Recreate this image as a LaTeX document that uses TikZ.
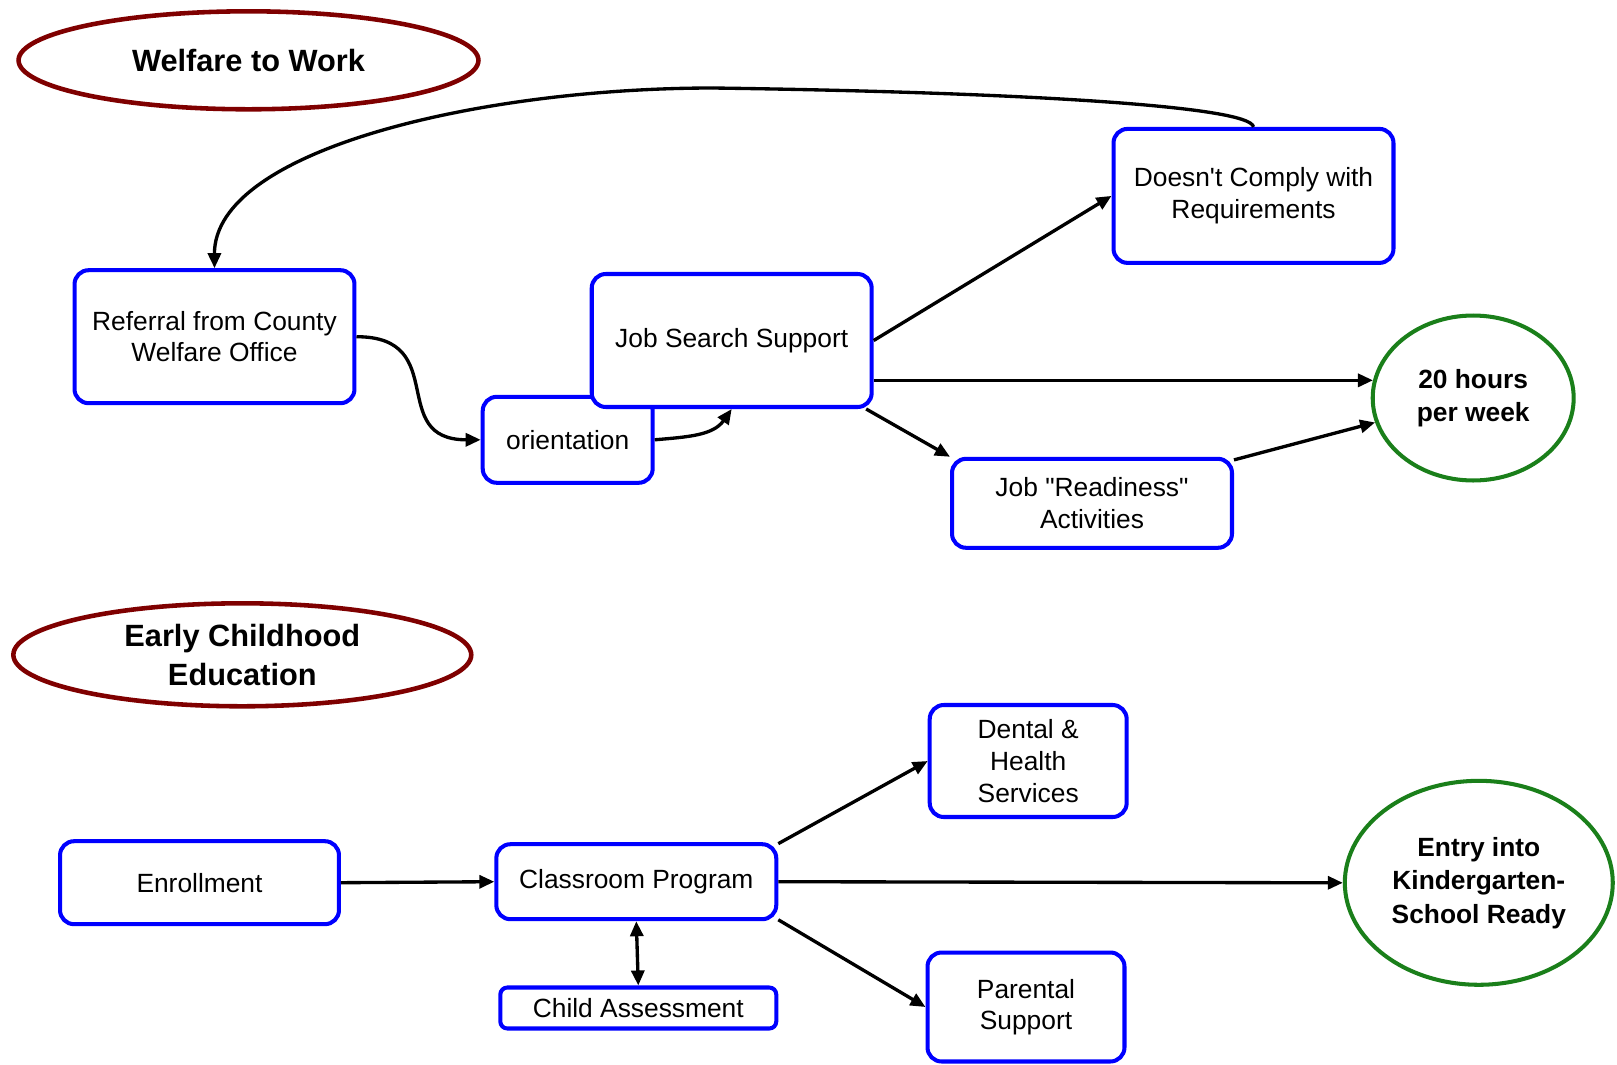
\documentclass[tikz,border=0pt]{standalone}
\usepackage{fontspec}
\setmainfont{Liberation Sans}
\usetikzlibrary{positioning,arrows.meta,shapes.geometric}
\definecolor{boxblue}{HTML}{0000FF}
\definecolor{titlered}{HTML}{7F0000}
\definecolor{goalgreen}{HTML}{1A7F1A}

\begin{document}
\begin{tikzpicture}[x=0.02cm,y=0.02cm,
  >={Triangle[length=3mm,width=2.6mm]},
  stage/.style={draw=boxblue,line width=2.3pt,rounded corners=8pt,fill=white,
    align=center,inner sep=0pt,font=\fontsize{15}{18}\selectfont},
  program/.style={ellipse,draw=titlered,line width=2.6pt,align=center,inner sep=0pt,
    font=\bfseries\fontsize{17.5}{22}\selectfont},
  goal/.style={ellipse,draw=goalgreen,line width=2.3pt,align=center,inner sep=0pt,
    font=\bfseries\fontsize{15}{19}\selectfont},
  link/.style={->,line width=1.9pt}]
  \useasboundingbox (0,0) rectangle (1617,-1065);

  % Welfare to Work
  \node[program,minimum width=9.2cm,minimum height=1.96cm] (wtw) at (248.5,-60.3) {Welfare to Work};
  \node[stage,minimum width=5.6cm,minimum height=2.66cm] (ref) at (214.5,-336.7) {Referral from County\\Welfare Office};
  \node[stage,minimum width=3.4cm,minimum height=1.72cm] (ori) at (567.7,-439.8) {orientation};
  \node[stage,minimum width=5.6cm,minimum height=2.66cm] (jss) at (731.7,-340.5) {Job Search Support};
  \node[stage,minimum width=5.6cm,minimum height=2.68cm] (dnc) at (1253.5,-195.9) {Doesn\textquotesingle t Comply with\\Requirements};
  \node[stage,minimum width=5.6cm,minimum height=1.78cm] (jr) at (1092,-503.3) {Job \textquotedbl Readiness\textquotedbl\\Activities};
  \node[goal,minimum width=4.02cm,minimum height=3.3cm] (hrs) at (1473.2,-398) {20 hours\\per week};
  \coordinate (loop top) at (713,-88);

  \draw[line width=1.9pt] (dnc.north) .. controls (1250,-105) and (1000,-92) .. (loop top);
  \draw[link] (loop top) .. controls (480,-88) and (214,-150) .. (ref.north);
  \draw[link] (ref.east) to[out=0,in=180,looseness=1.5] (ori.west);
  \draw[link] (ori.east) to[out=5,in=-125] (jss.south);
  \draw[link] (jss.east) -- (dnc.west);
  \draw[link] (jss.east |- hrs.170) -- (hrs.170);
  \draw[link] (jss.-27) -- (jr.north west);
  \draw[link] (jr.17) -- (hrs.194);

  % Early Childhood Education
  \node[program,minimum width=9.16cm,minimum height=2.06cm] (ece) at (242.3,-654.8) {Early Childhood\\Education};
  \node[stage,minimum width=5.58cm,minimum height=1.66cm] (enr) at (199.5,-882.7) {Enrollment};
  \node[stage,minimum width=5.6cm,minimum height=1.5cm] (cls) at (636.3,-881.7) {Classroom Program};
  \node[stage,rounded corners=4pt,minimum width=5.52cm,minimum height=0.82cm] (ca) at (638.3,-1008) {Child Assessment};
  \node[stage,minimum width=3.94cm,minimum height=2.24cm] (den) at (1028.2,-761) {Dental \&\\Health\\Services};
  \node[stage,minimum width=3.94cm,minimum height=2.18cm] (par) at (1026,-1007) {Parental\\Support};
  \node[goal,minimum width=5.36cm,minimum height=4.08cm] (ent) at (1478.8,-882.8) {Entry into\\Kindergarten-\\School Ready};

  \draw[link] (enr.east) -- (cls.west);
  \draw[link] (cls.15) -- (den.west);
  \draw[link] (cls.east) -- (ent.west);
  \draw[link] (cls.-15) -- (par.west);
  \draw[link,<->] (cls.south) -- (ca.north);
\end{tikzpicture}
\end{document}
